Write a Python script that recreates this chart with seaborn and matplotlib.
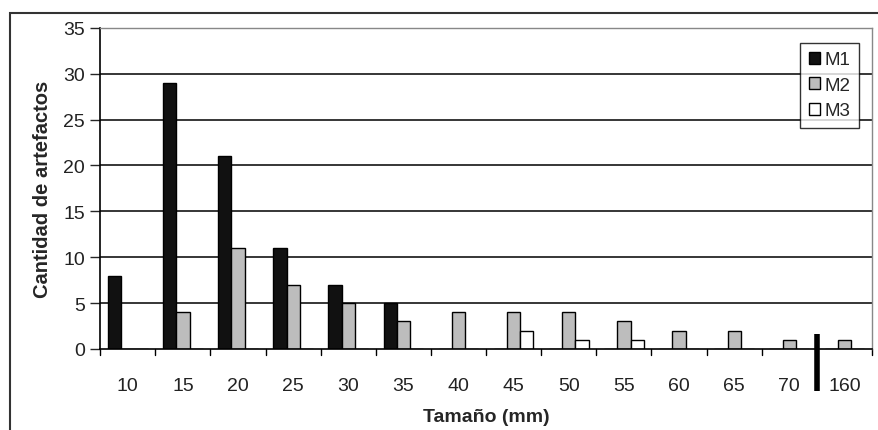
import pandas as pd
import matplotlib
matplotlib.use('Agg')
import matplotlib.pyplot as plt
import seaborn as sns
from matplotlib.patches import Rectangle

sizes = ['10', '15', '20', '25', '30', '35', '40', '45', '50', '55', '60', '65', '70', '160']
m1 = [8, 29, 21, 11, 7, 5, 0, 0, 0, 0, 0, 0, 0, 0]
m2 = [0, 4, 11, 7, 5, 3, 4, 4, 4, 3, 2, 2, 1, 1]
m3 = [0, 0, 0, 0, 0, 0, 0, 2, 1, 1, 0, 0, 0, 0]

df = pd.DataFrame({'Tamaño': sizes * 3,
                   'Cantidad': m1 + m2 + m3,
                   'Serie': ['M1'] * 14 + ['M2'] * 14 + ['M3'] * 14})

sns.set_style('white')
plt.rcParams['font.family'] = ['Liberation Sans', 'DejaVu Sans']

fig = plt.figure(figsize=(8.79, 4.31), dpi=100)
ax = fig.add_axes([0.114, 0.188, 0.878, 0.745])

colors = {'M1': '#111111', 'M2': '#bdbdbd', 'M3': '#ffffff'}
sns.barplot(data=df, x='Tamaño', y='Cantidad', hue='Serie', order=sizes,
            palette=colors, edgecolor='black', linewidth=1.0, width=0.72,
            gap=0, legend=False, ax=ax)

ax.set_ylim(0, 35)
ax.set_xlim(-0.5, len(sizes) - 0.5)
ax.set_yticks(range(0, 36, 5))
for y in range(5, 36, 5):
    ax.axhline(y, color='black', linewidth=1.1, zorder=0)

ax.set_xticks(range(len(sizes)))
ax.set_xticklabels(sizes, fontsize=14, color='#222222')
ax.tick_params(axis='x', length=0, pad=20)
ax.tick_params(axis='y', labelsize=14, labelcolor='#222222', length=7,
               width=1, direction='out', left=True, pad=4)
# tick marks between categories
for k in range(len(sizes) + 1):
    ax.plot([k - 0.5, k - 0.5], [0, -0.018], transform=ax.get_xaxis_transform(),
            color='black', linewidth=1, clip_on=False)

ax.set_xlabel('Tamaño (mm)', fontsize=14, fontweight='bold', labelpad=10)
ax.set_ylabel('Cantidad de artefactos', fontsize=14.5, fontweight='bold', labelpad=8)

for side in ['left', 'bottom']:
    ax.spines[side].set_color('black')
    ax.spines[side].set_linewidth(1.2)
for side in ['top', 'right']:
    ax.spines[side].set_color('#888888')
    ax.spines[side].set_linestyle((0, (2, 1)))
    ax.spines[side].set_linewidth(1)

# axis break between 70 and 160
ax.plot([12.5, 12.5], [0.047, -0.13], transform=ax.get_xaxis_transform(),
        color='black', linewidth=4, clip_on=False, solid_capstyle='butt')

handles = [Rectangle((0, 0), 1, 1, facecolor=colors[s], edgecolor='black', linewidth=1)
           for s in ['M1', 'M2', 'M3']]
leg = ax.legend(handles, ['M1', 'M2', 'M3'], loc='upper right',
                bbox_to_anchor=(0.9835, 0.953), fontsize=13.5, frameon=True,
                fancybox=False, edgecolor='black', handlelength=0.6,
                handleheight=0.6, handletextpad=0.25, labelspacing=0.45,
                borderpad=0.45, borderaxespad=0)
leg.get_frame().set_linewidth(1)

# outer chart border
fig.patches.append(Rectangle((10 / 879, -0.01), 1.0, 1 - 14 / 431 + 0.01,
                             transform=fig.transFigure, fill=False,
                             edgecolor='#333333', linewidth=1.5))

fig.savefig('out.png', dpi=100)
